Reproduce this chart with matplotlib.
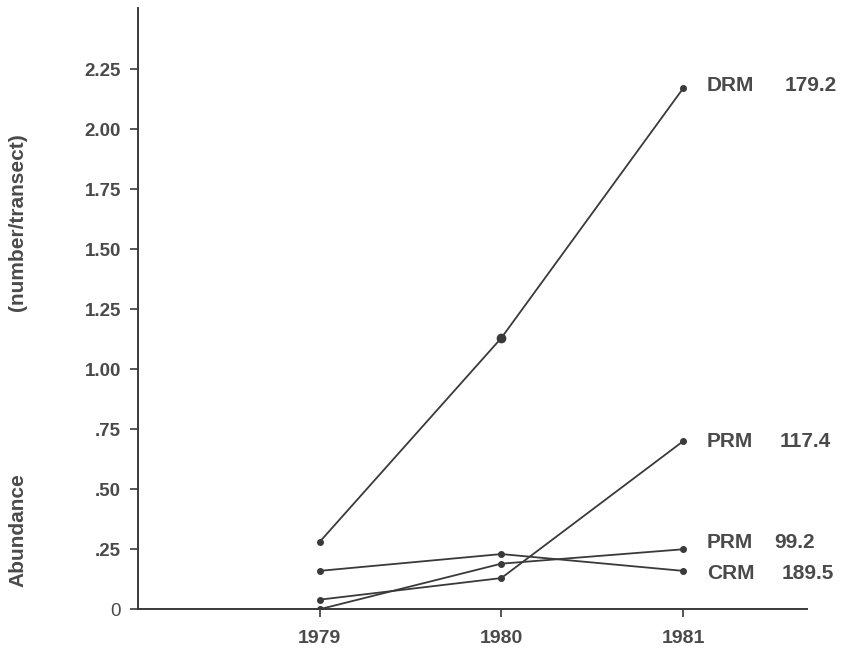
import matplotlib
matplotlib.use('Agg')
import matplotlib.pyplot as plt

plt.rcParams['font.family'] = ['Liberation Sans', 'DejaVu Sans']

years = [1979, 1980, 1981]
drm_179 = [0.28, 1.13, 2.17]
prm_117 = [0.04, 0.13, 0.70]
prm_99 = [0.00, 0.19, 0.25]
crm_189 = [0.16, 0.23, 0.16]

series_names = ['DRM', 'PRM', 'PRM', 'CRM']
series_values = ['179.2', '117.4', '99.2', '189.5']
label_y = [2.18, 0.70, 0.28, 0.15]
value_x = [1981.56, 1981.53, 1981.50, 1981.54]

yticks = [0, 0.25, 0.5, 0.75, 1.0, 1.25, 1.5, 1.75, 2.0, 2.25]
ytick_labels = ['0', '.25', '.50', '.75', '1.00', '1.25', '1.50', '1.75', '2.00', '2.25']

ink = '#3a3a3a'
txt = '#4a4a4a'

fig = plt.figure(figsize=(8.49, 6.49), dpi=100)
ax = fig.add_axes([0.1622, 0.0612, 0.788, 0.9265])

all_series = [drm_179, prm_117, prm_99, crm_189]
for vals in all_series:
    ax.plot(years, vals, color=ink, lw=1.3, marker='o', ms=4, mfc=ink, mec=ink)
# the 1980 DRM dot is drawn heavier
ax.plot([years[1]], [drm_179[1]], 'o', color=ink, ms=6)

for name, val, yy, vx in zip(series_names, series_values, label_y, value_x):
    ax.text(1981.13, yy, name, fontsize=15, fontweight='bold', color=txt, va='center')
    ax.text(vx, yy, val, fontsize=15, fontweight='bold', color=txt, va='center')

ax.set_xlim(1978, 1981.68)
ax.set_ylim(0, 2.505)
ax.set_xticks(years)
ax.set_xticklabels([str(y) for y in years], fontsize=14, fontweight='bold', color=txt)
ax.set_yticks(yticks)
ax.set_yticklabels(ytick_labels, fontsize=13.5, fontweight='bold', color=txt)
ax.get_yticklabels()[0].set_fontweight('normal')

ax.tick_params(axis='y', direction='out', length=6, width=1.2, pad=6, color=ink)
ax.tick_params(axis='x', direction='out', length=6, width=1.2, pad=9, color=ink)

for s in ['top', 'right']:
    ax.spines[s].set_visible(False)
for s in ['left', 'bottom']:
    ax.spines[s].set_color(ink)
    ax.spines[s].set_linewidth(1.4)

# y axis title, two parts as in the original
fig.text(18 / 849, 1 - 530 / 649, 'Abundance', rotation=90, fontsize=15,
         fontweight='bold', color=txt, ha='center', va='center')
fig.text(18 / 849, 1 - 222 / 649, '(number/transect)', rotation=90, fontsize=15,
         fontweight='bold', color=txt, ha='center', va='center')

fig.savefig('out.png', dpi=100)
